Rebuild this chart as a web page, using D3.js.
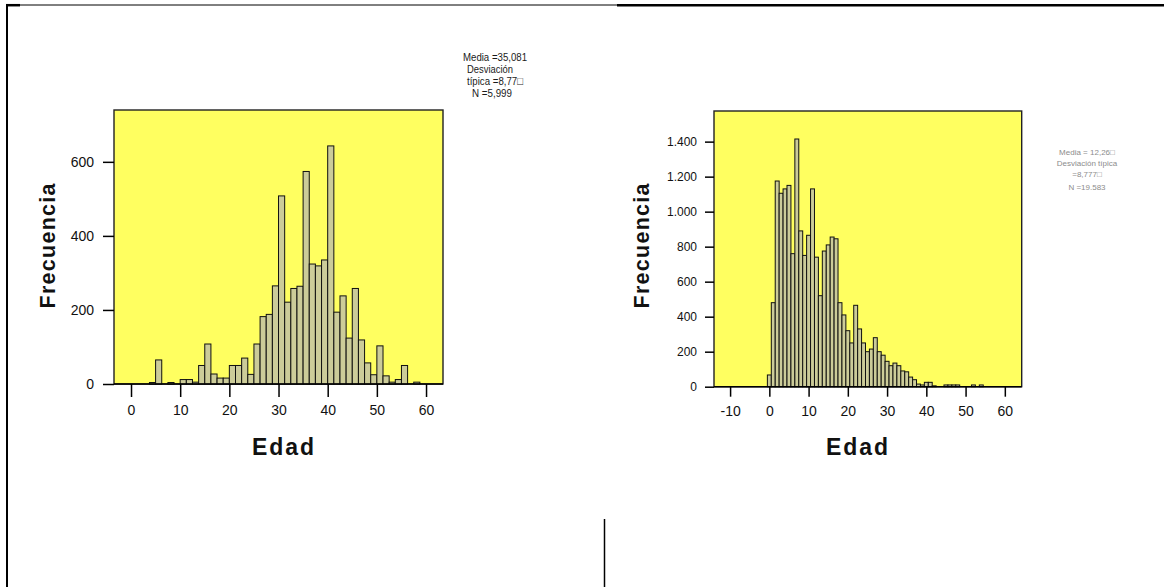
<!DOCTYPE html>
<html><head><meta charset="utf-8">
<script src="https://cdn.jsdelivr.net/npm/d3@7"></script>
<style>html,body{margin:0;padding:0;background:#fff;}svg{display:block;}</style>
</head><body>
<svg id="c" width="1164" height="587"></svg>
<script>
// ---------- DATA ----------
const xTitle = "Edad";
const yTitle = "Frecuencia";

// Left histogram: bin starts (width 1.25 years) and frequencies
const leftBinWidth = 1.25;
const leftBinStarts = [3.75,5,6.25,7.5,8.75,10,11.25,12.5,13.75,15,16.25,17.5,18.75,20,21.25,22.5,23.75,25,26.25,27.5,28.75,30,31.25,32.5,33.75,35,36.25,37.5,38.75,40,41.25,42.5,43.75,45,46.25,47.5,48.75,50,51.25,52.5,53.75,55,56.25,57.5];
const leftCounts    = [4,65,0,4,0,12,12,5,50,108,27,16,16,50,50,70,26,108,182,188,265,508,221,258,264,574,324,319,335,643,194,238,124,258,119,57,25,103,22,5,12,50,0,5];
const leftXTicks = [0,10,20,30,40,50,60];
const leftYTicks = [0,200,400,600];
const leftStats = ["Media =35,081","Desviación","típica =8,77\u25A1","N =5,999"];

// Right histogram: ages (bins of 1 year centred on the age) and frequencies
const rightBinWidth = 1;
const rightAges   = [0,1,2,3,4,5,6,7,8,9,10,11,12,13,14,15,16,17,18,19,20,21,22,23,24,25,26,27,28,29,30,31,32,33,34,35,36,37,38,39,40,41,42,45,46,47,48,52,54];
const rightCounts = [67,480,1175,1105,1130,1150,760,1415,890,750,865,1130,740,520,775,810,855,845,480,410,320,250,465,330,250,200,215,280,200,180,145,120,135,120,90,85,55,40,15,10,25,25,5,10,10,10,10,10,10];
const rightXTicks = [-10,0,10,20,30,40,50,60];
const rightYTicks = [0,200,400,600,800,1000,1200,1400];
const rightStats = ["Media = 12,26\u25A1","Desviación típica","=8,777\u25A1","N =19.583"];

// ---------- DRAW ----------
const svg = d3.select("#c");
const FONT = "'Liberation Sans', Arial, sans-serif";
const loc = d3.formatLocale({decimal:",", thousands:".", grouping:[3], currency:["",""], minus:"-"});
const fmt = loc.format(",d");

// page / table lines
svg.append("line").attr("x1",7).attr("x2",7).attr("y1",4).attr("y2",587).attr("stroke","#000").attr("stroke-width",2);
svg.append("line").attr("x1",6).attr("x2",20).attr("y1",5.2).attr("y2",5.2).attr("stroke","#000").attr("stroke-width",2.5);
svg.append("line").attr("x1",20).attr("x2",617).attr("y1",5).attr("y2",5).attr("stroke","#000").attr("stroke-width",1);
svg.append("line").attr("x1",617).attr("x2",1164).attr("y1",5.3).attr("y2",5.3).attr("stroke","#000").attr("stroke-width",2.5);
svg.append("line").attr("x1",604.5).attr("x2",604.5).attr("y1",519).attr("y2",587).attr("stroke","#000").attr("stroke-width",1.5);

function panel(o) {
  const x = d3.scaleLinear().domain(o.xDomain).range([o.left, o.right]);
  const y = d3.scaleLinear().domain(o.yDomain).range([o.bottom, o.top]);
  const g = svg.append("g");
  g.append("rect").attr("x",o.left).attr("y",o.top).attr("width",o.right-o.left).attr("height",o.bottom-o.top)
    .attr("fill","#ffff60").attr("stroke","#222").attr("stroke-width",1.4);
  const bins = o.starts.map((s,i)=>({x0:s, x1:s+o.bw, n:o.counts[i]})).filter(d=>d.n>0);
  g.append("g").selectAll("rect").data(bins).join("rect")
    .attr("x",d=>x(d.x0)).attr("width",d=>x(d.x1)-x(d.x0))
    .attr("y",d=>y(d.n)).attr("height",d=>y(0)-y(d.n))
    .attr("fill","#cccc99").attr("stroke","#111").attr("stroke-width",1);
  // axes
  const ya = g.append("g").attr("transform",`translate(${o.left},0)`)
    .call(d3.axisLeft(y).tickValues(o.yTicks).tickSize(o.yTickSize).tickPadding(o.yPad).tickSizeOuter(0).tickFormat(fmt));
  ya.select(".domain").remove();
  ya.selectAll("text").attr("font-family",FONT).attr("font-size",o.yFont).attr("fill","#111");
  ya.selectAll("line").attr("stroke","#000").attr("stroke-width",1.5);
  const xa = g.append("g").attr("transform",`translate(0,${o.bottom})`)
    .call(d3.axisBottom(x).tickValues(o.xTicks).tickSize(o.xTickSize).tickPadding(o.xPad).tickSizeOuter(0).tickFormat(fmt));
  xa.select(".domain").remove();
  xa.selectAll("text").attr("font-family",FONT).attr("font-size",14).attr("fill","#111");
  xa.selectAll("line").attr("stroke","#000").attr("stroke-width",1.5);
  g.append("line").attr("x1",o.left).attr("x2",o.right).attr("y1",o.bottom).attr("y2",o.bottom).attr("stroke","#000").attr("stroke-width",1.6);
  // titles
  g.append("text").attr("x",o.xTitleX).attr("y",455).attr("text-anchor","middle")
    .attr("font-family",FONT).attr("font-weight","bold").attr("font-size",23).attr("fill","#111")
    .attr("textLength",62).attr("lengthAdjust","spacing").text(xTitle);
  g.append("text").attr("transform",`translate(${o.yTitleX},246) rotate(-90)`).attr("text-anchor","middle")
    .attr("font-family",FONT).attr("font-weight","bold").attr("font-size",21.5).attr("fill","#111")
    .attr("textLength",125).attr("lengthAdjust","spacing").text(yTitle);
  return g;
}

panel({left:114,right:443,top:110,bottom:384,xDomain:[-3.46,63.45],yDomain:[0,740],
  starts:leftBinStarts,counts:leftCounts,bw:leftBinWidth,xTicks:leftXTicks,yTicks:leftYTicks,
  yTickSize:11,yPad:9,yFont:14,xTickSize:13,xPad:8,xTitleX:283,yTitleX:55});

panel({left:714,right:1021.7,top:111,bottom:386.7,xDomain:[-14.1,64.3],yDomain:[0,1575],
  starts:rightAges.map(a=>a-rightBinWidth/2),counts:rightCounts,bw:rightBinWidth,xTicks:rightXTicks,yTicks:rightYTicks,
  yTickSize:9,yPad:8,yFont:12,xTickSize:10,xPad:9,xTitleX:857,yTitleX:649});

// stats boxes
const lx = [463,467,467,472], lw = [64,46,56,40];
svg.append("g").selectAll("text").data(leftStats).join("text")
  .attr("x",(d,i)=>lx[i]).attr("y",(d,i)=>60.5+i*12.3)
  .attr("font-family",FONT).attr("font-size",11.5).attr("fill","#1a1a1a")
  .attr("textLength",(d,i)=>lw[i]).attr("lengthAdjust","spacingAndGlyphs").text(d=>d);

const ry = [154.5,166,177,190];
svg.append("g").selectAll("text").data(rightStats).join("text")
  .attr("x",1087).attr("y",(d,i)=>ry[i]).attr("text-anchor","middle")
  .attr("font-family",FONT).attr("font-size",8).attr("fill","#8c8c8c").text(d=>d);
</script>
</body></html>
